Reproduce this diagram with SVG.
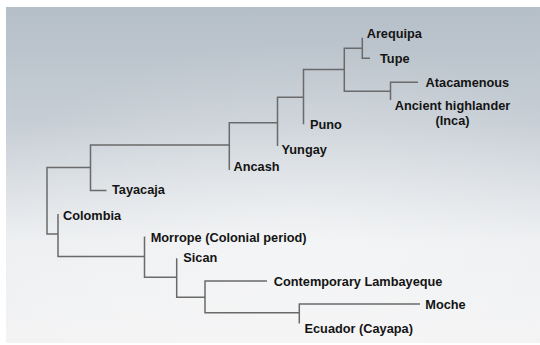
<svg xmlns="http://www.w3.org/2000/svg" width="540" height="345" viewBox="0 0 540 345">
  <defs>
    <linearGradient id="bg" x1="0" y1="7" x2="0" y2="343" gradientUnits="userSpaceOnUse">
      <stop offset="0" stop-color="#b5bfc8"/>
      <stop offset="0.35" stop-color="#c7ced5"/>
      <stop offset="0.7" stop-color="#edeff1"/>
      <stop offset="1" stop-color="#f3f3f4"/>
    </linearGradient>
    <radialGradient id="glow" cx="300" cy="240" r="330" gradientUnits="userSpaceOnUse" gradientTransform="translate(300 240) scale(1 0.6) translate(-300 -240)">
      <stop offset="0" stop-color="#ffffff" stop-opacity="0.35"/>
      <stop offset="1" stop-color="#ffffff" stop-opacity="0"/>
    </radialGradient>
    <style>
      .br { fill: none; stroke: #6a6a6a; stroke-width: 1.5; }
      .lb { font-family: "Liberation Sans", Arial, sans-serif; font-weight: bold; font-size: 12.75px; fill: #141414; }
      .mid { text-anchor: middle; }
    </style>
  </defs>
  <rect width="540" height="345" fill="#ffffff"/>
  <rect x="6" y="7" width="534" height="336" fill="url(#bg)"/>
  <rect x="6" y="7" width="534" height="336" fill="url(#glow)"/>

  <g id="connectors">
    <path class="br" d="M90.5,167.5 H47 V234 H58"/>
    <path class="br" d="M229.3,145 H90.5 V190.5 H106.5"/>
    <path class="br" d="M277.5,122.7 H229.3 V170"/>
    <path class="br" d="M303.5,97.3 H277.5 V146"/>
    <path class="br" d="M344.3,69.5 H303.5 V124.3"/>
    <path class="br" d="M362.3,48.3 H344.3 V91.3 H390.5"/>
    <path class="br" d="M362.3,37.7 V58.3 H370"/>
    <path class="br" d="M418,82.3 H390.5 V100"/>
    <path class="br" d="M58,214 V256.5 H144.5"/>
    <path class="br" d="M144.5,236.5 V277.3 H176.7"/>
    <path class="br" d="M176.7,258.3 V297.3 H205"/>
    <path class="br" d="M267,281 H205 V312.7 H299.3"/>
    <path class="br" d="M420,304 H299.3 V323.5"/>
  </g>

  <g id="arequipa"><text class="lb" x="366.7" y="38">Arequipa</text></g>
  <g id="tupe"><text class="lb" x="380" y="62.5">Tupe</text></g>
  <g id="atacamenous"><text class="lb" x="425.6" y="87">Atacamenous</text></g>
  <g id="ancient-highlander">
    <text class="lb mid" x="452.5" y="110.3">Ancient highlander</text>
    <text class="lb mid" x="452.5" y="124.5">(Inca)</text>
  </g>
  <g id="puno"><text class="lb" x="310" y="129">Puno</text></g>
  <g id="yungay"><text class="lb" x="281.5" y="154">Yungay</text></g>
  <g id="ancash"><text class="lb" x="233.5" y="170.7">Ancash</text></g>
  <g id="tayacaja"><text class="lb" x="112" y="194">Tayacaja</text></g>
  <g id="colombia"><text class="lb" x="63" y="220">Colombia</text></g>
  <g id="morrope"><text class="lb" x="150.7" y="241.7">Morrope (Colonial period)</text></g>
  <g id="sican"><text class="lb" x="183.3" y="261.7">Sican</text></g>
  <g id="contemporary-lambayeque"><text class="lb" x="273.8" y="286">Contemporary Lambayeque</text></g>
  <g id="moche"><text class="lb" x="425.3" y="308.5">Moche</text></g>
  <g id="ecuador"><text class="lb" x="304.5" y="333">Ecuador (Cayapa)</text></g>
</svg>
